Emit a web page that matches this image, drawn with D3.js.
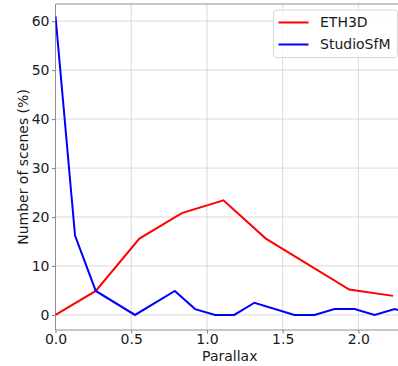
<!DOCTYPE html>
<html>
<head>
<meta charset="utf-8">
<script src="https://cdn.jsdelivr.net/npm/d3@7"></script>
<style>
  body { margin: 0; background: #fff; }
  svg { display: block; font-family: "DejaVu Sans", sans-serif; }
</style>
</head>
<body>
<div id="chart"></div>
<script>
// values
const ethParallax = [0, 0.266, 0.554, 0.834, 1.109, 1.389, 1.94, 2.229];
const ethScenes = [0, 4.9, 15.6, 20.8, 23.4, 15.6, 5.2, 3.9];

const studioParallax = [0, 0.129, 0.266, 0.525, 0.788, 0.922, 1.054, 1.18, 1.314, 1.578, 1.71, 1.843, 1.975, 2.107, 2.24, 2.37];
const studioScenes = [61, 16.2, 4.9, 0, 4.9, 1.2, 0, 0, 2.5, 0, 0, 1.2, 1.2, 0, 1.2, 0];

const xTicks = [0, 0.5, 1.0, 1.5, 2.0];
const yTicks = [0, 10, 20, 30, 40, 50, 60];

const seriesNames = ["ETH3D", "StudioSfM"];
const seriesColors = ["#ff0000", "#0000ff"];

const width = 398;
const height = 366;

//plot box, right side runs off the page like in the reference
const marginTop = 4;
const marginLeft = 55.5;
const plotBottom = 330;
const plotRight = 400;

const x = d3.scaleLinear()
    .domain([0, 2.275])
    .range([marginLeft, plotRight]);

const y = d3.scaleLinear()
    .domain([-3.07, 63.5])
    .range([plotBottom, marginTop]);

const svg = d3.select("#chart").append("svg")
    .attr("width", width)
    .attr("height", height)
    .attr("viewBox", [0, 0, width, height]);

svg.append("defs").append("clipPath")
    .attr("id", "plot-clip")
    .append("rect")
    .attr("x", marginLeft)
    .attr("y", marginTop)
    .attr("width", plotRight - marginLeft)
    .attr("height", plotBottom - marginTop);

// grid
const grid = svg.append("g").attr("class", "grid")
    .attr("stroke", "#d0d0d0")
    .attr("stroke-width", 0.8);

grid.selectAll("line.vx")
    .data(xTicks)
    .join("line")
    .attr("class", "vx")
    .attr("x1", d => x(d)).attr("x2", d => x(d))
    .attr("y1", marginTop).attr("y2", plotBottom);

grid.selectAll("line.hy")
    .data(yTicks)
    .join("line")
    .attr("class", "hy")
    .attr("x1", marginLeft).attr("x2", plotRight)
    .attr("y1", d => y(d)).attr("y2", d => y(d));

// axes
const xAxis = svg.append("g")
    .attr("transform", `translate(0,${plotBottom})`)
    .call(d3.axisBottom(x).tickValues(xTicks).tickFormat(d3.format(".1f")).tickSizeOuter(0).tickSize(3.5).tickPadding(0.5));

const yAxis = svg.append("g")
    .attr("transform", `translate(${marginLeft},0)`)
    .call(d3.axisLeft(y).tickValues(yTicks).tickSizeOuter(0).tickSize(3.5).tickPadding(2.5));

for (const ax of [xAxis, yAxis]) {
    ax.select(".domain").remove();
    ax.selectAll(".tick line").attr("stroke", "#808080");
    ax.selectAll(".tick text")
        .attr("font-size", "14px")
        .attr("font-family", "DejaVu Sans")
        .attr("fill", "#1a1a1a");
}

// spines (left, bottom, top)
svg.append("path")
    .attr("d", `M${plotRight},${marginTop}H${marginLeft}V${plotBottom}H${plotRight}`)
    .attr("fill", "none")
    .attr("stroke", "#909090")
    .attr("stroke-width", 1);

// lines
const line = d3.line()
    .x(d => x(d[0]))
    .y(d => y(d[1]));

const ethData = ethParallax.map((p, i) => [p, ethScenes[i]]);
const studioData = studioParallax.map((p, i) => [p, studioScenes[i]]);

const lines = svg.append("g").attr("clip-path", "url(#plot-clip)");

lines.append("path")
    .datum(ethData)
    .attr("fill", "none")
    .attr("stroke", seriesColors[0])
    .attr("stroke-width", 2)
    .attr("d", line);

lines.append("path")
    .datum(studioData)
    .attr("fill", "none")
    .attr("stroke", seriesColors[1])
    .attr("stroke-width", 2)
    .attr("d", line);

// axis labels
svg.append("text")
    .text("Parallax")
    .attr("x", (marginLeft + width) / 2 + 3)
    .attr("y", 361)
    .attr("text-anchor", "middle")
    .attr("font-size", "14px")
    .attr("fill", "#1a1a1a");

svg.append("text")
    .text("Number of scenes (%)")
    .attr("transform", `translate(28,${(marginTop + plotBottom) / 2}) rotate(-90)`)
    .attr("text-anchor", "middle")
    .attr("font-size", "14px")
    .attr("fill", "#1a1a1a");

// legend
const legend = svg.append("g").attr("transform", "translate(273.5,10)");

legend.append("rect")
    .attr("width", 124)
    .attr("height", 47.5)
    .attr("rx", 3)
    .attr("fill", "#fff")
    .attr("fill-opacity", 0.8)
    .attr("stroke", "#d8d8d8");

seriesNames.forEach((name, i) => {
    const row = legend.append("g").attr("transform", `translate(0,${12.5 + i * 22})`);
    row.append("line")
        .attr("x1", 5).attr("x2", 35)
        .attr("stroke", seriesColors[i])
        .attr("stroke-width", 2);
    row.append("text")
        .text(name)
        .attr("x", 46.5)
        .attr("dy", "0.35em")
        .attr("font-size", "14px")
        .attr("fill", "#1a1a1a");
});
</script>
</body>
</html>
